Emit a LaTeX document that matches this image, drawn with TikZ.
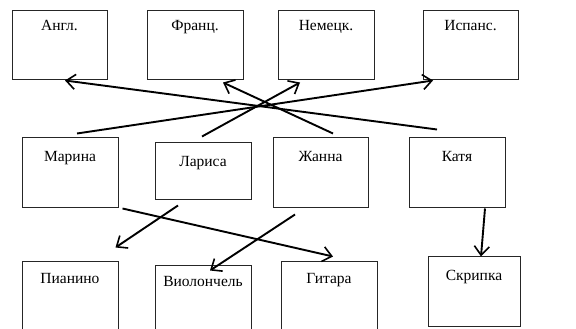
\documentclass[tikz,border=0pt]{standalone}
\usepackage{fontspec}
\setmainfont{Liberation Serif}
\usetikzlibrary{arrows.meta,calc}
\begin{document}
\begin{tikzpicture}[x=1pt,y=1pt,
  box/.style={draw=black!85, line width=1pt, minimum width=96pt, minimum height=70pt, inner sep=0pt},
  lbl/.style={anchor=base, font=\fontsize{15.5}{17}\selectfont, inner sep=0pt},
  arr/.style={line width=1.9pt, -{Straight Barb[length=9pt,width=15pt,line width=1.6pt]}}]
\useasboundingbox (0,0) rectangle (576,329);
% top row
\node[box, minimum width=95pt, minimum height=69pt, label={[lbl,yshift=-20.5pt]north:Англ.}] (angl) at (59.5,283.5) {};
\node[box, minimum height=69pt, label={[lbl,yshift=-20.5pt]north:Франц.}] (franc) at (195,283.5) {};
\node[box, minimum height=69pt, label={[lbl,yshift=-20.5pt]north:Немецк.}] (nemec) at (326,283.5) {};
\node[box, minimum width=95pt, minimum height=69pt, label={[lbl,yshift=-20.5pt]north:Испанс.}] (ispan) at (470.5,283.5) {};
% middle row
\node[box, label={[lbl,yshift=-24.5pt]north:Марина}] (marina) at (70,156) {};
\node[box, minimum height=57pt, label={[lbl,yshift=-24.5pt]north:Лариса}] (larisa) at (203,157.5) {};
\node[box, minimum width=95pt, label={[lbl,yshift=-24.5pt]north:Жанна}] (zhanna) at (320.5,156) {};
\node[box, label={[lbl,yshift=-24.5pt]north:Катя}] (katya) at (457,156) {};
% bottom row
\node[box, label={[lbl,yshift=-22.5pt]north:Пианино}] (piano) at (70,32) {};
\node[box, label={[lbl,yshift=-21.5pt]north:Виолончель}] (violon) at (203,28) {};
\node[box, label={[lbl,yshift=-22.5pt]north:Гитара}] (gitara) at (329,32) {};
\node[box, minimum width=92pt, label={[lbl,yshift=-24.5pt]north:Скрипка}] (skripka) at (474,37) {};
% arrows
\draw[arr] ($(marina.north)+(7,4)$) -- ($(ispan.south)+(-37.5,0)$);
\draw[arr] ($(larisa.north)+(-1,6)$) -- ($(nemec.south)+(-26,-2)$);
\draw[arr] ($(zhanna.north)+(12.5,4)$) -- ($(franc.south)+(28,-2)$);
\draw[arr] ($(katya.north)+(-20,8)$) -- ($(angl.south)+(5.5,0)$);
\draw[arr] ($(marina.south east)+(4,0)$) -- ($(gitara.north)+(4,5)$);
\draw[arr] ($(larisa.south)+(-25,-5)$) -- ($(piano.north east)+(-3,14)$);
\draw[arr] ($(zhanna.south)+(-25.5,-6)$) -- ($(violon.north)+(7,-5)$);
\draw[arr] ($(katya.south)+(28,0)$) -- ($(skripka.north)+(7,0)$);
\end{tikzpicture}
\end{document}
